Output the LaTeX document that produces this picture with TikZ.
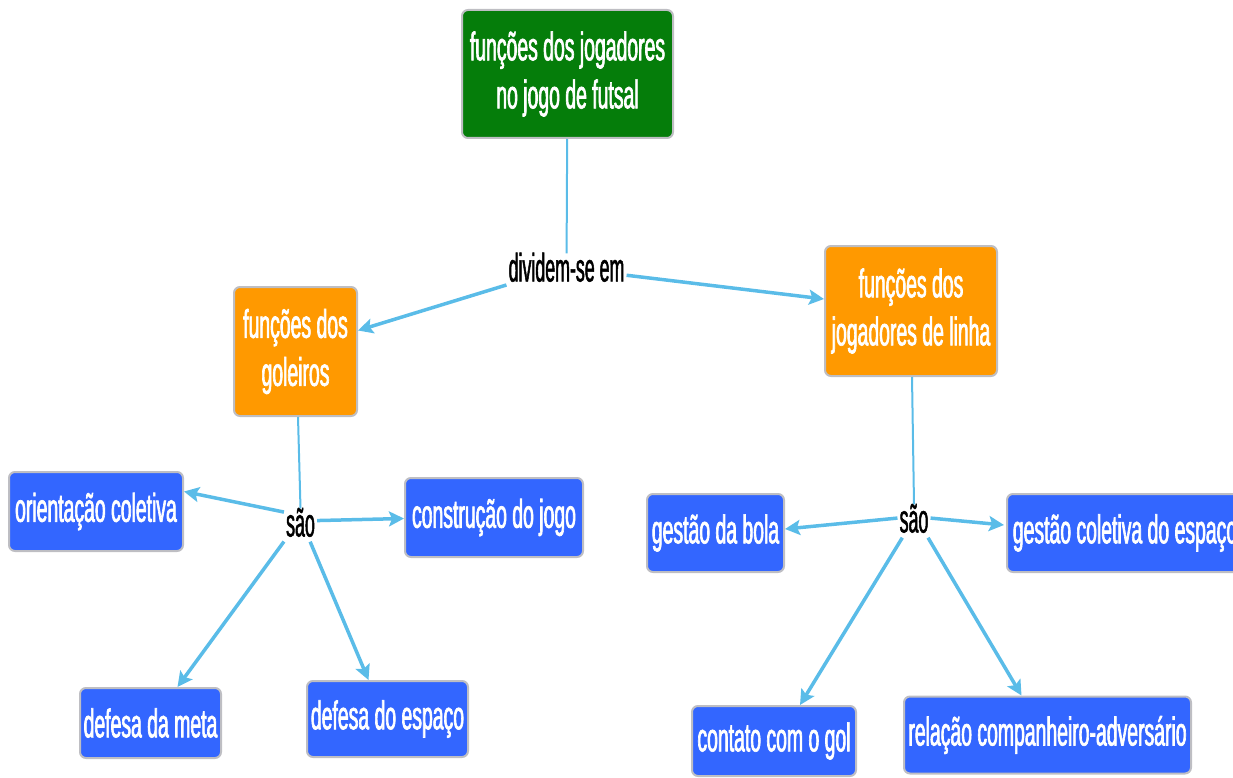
\documentclass[tikz,border=0pt]{standalone}
\usepackage{fontspec}
\setmainfont{Liberation Sans}
\newfontfamily\boxfont{Liberation Sans}[FakeStretch=0.485,FakeBold=1.6]
\newfontfamily\linkfont{Liberation Sans}[FakeStretch=0.445,FakeBold=1.2]
\usetikzlibrary{arrows.meta}

\definecolor{rootgreen}{RGB}{5,125,10}
\definecolor{grouporange}{RGB}{255,153,0}
\definecolor{leafblue}{RGB}{51,102,255}
\definecolor{boxedge}{RGB}{190,190,195}
\definecolor{linkblue}{RGB}{90,188,232}

\tikzset{
  concept/.style={rounded corners=6pt, draw=boxedge, line width=2pt,
    text=white, align=center, inner sep=0pt,
    font=\boxfont\fontsize{40}{48}\selectfont},
  rootbox/.style={concept, fill=rootgreen},
  groupbox/.style={concept, fill=grouporange},
  leafbox/.style={concept, fill=leafblue},
  phrase/.style={text=black, inner sep=2pt, text height=26pt, text depth=3pt,
    font=\linkfont\fontsize{40}{48}\selectfont},
  link/.style={draw=linkblue, line width=2pt},
  arrowlink/.style={draw=linkblue, line width=3.5pt,
    -{Stealth[length=15pt,width=15pt,inset=3pt]}},
}

\begin{document}
\begin{tikzpicture}[x=1pt,y=-1pt]
\useasboundingbox (0,0) rectangle (1233,778);

% concepts
\node[rootbox, minimum width=211pt, minimum height=128pt] (root) at (567.5,74)
  {funções dos jogadores\\no jogo de futsal};
\node[groupbox, minimum width=123pt, minimum height=129pt] (goal) at (295.5,351.5)
  {funções dos\\goleiros};
\node[groupbox, minimum width=172pt, minimum height=130pt] (line) at (911,311)
  {funções dos\\jogadores de linha};

\node[leafbox, minimum width=174pt, minimum height=79pt] (orient) at (96,511.5)
  {orientação coletiva};
\node[leafbox, minimum width=178pt, minimum height=79pt] (build) at (494,517.5)
  {construção do jogo};
\node[leafbox, minimum width=141pt, minimum height=70pt] (meta) at (150.5,723)
  {defesa da meta};
\node[leafbox, minimum width=161pt, minimum height=76pt] (space) at (387.5,719)
  {defesa do espaço};
\node[leafbox, minimum width=137pt, minimum height=78pt] (ball) at (715.5,533)
  {gestão da bola};
\node[leafbox, minimum width=236pt, minimum height=78pt] (collective) at (1125,533)
  {gestão coletiva do espaço};
\node[leafbox, minimum width=164pt, minimum height=70pt] (goalcontact) at (774,741)
  {contato com o gol};
\node[leafbox, minimum width=287pt, minimum height=77pt] (partner) at (1047.5,735)
  {relação companheiro-adversário};

% linking phrases
\node[phrase] (divide) at (566.5,270) {dividem-se em};
\node[phrase] (areL) at (300.5,525) {são};
\node[phrase] (areR) at (914,521) {são};

% connectors
\draw[link] (root) -- (divide);
\draw[arrowlink] (divide.194) -- ([yshift=21pt]goal.east);
\draw[arrowlink] (divide.355) -- ([yshift=12pt]line.west);

\draw[link] ([xshift=2.5pt]goal.south) -- (areL.north);
\draw[arrowlink] (areL.142) -- ([yshift=20pt]orient.east);
\draw[arrowlink] (areL.15) -- ([yshift=-1pt]build.west);
\draw[arrowlink] (areL.225) -- ([xshift=27pt]meta.north);
\draw[arrowlink] (areL.300) -- ([xshift=-19pt]space.north);

\draw[link] ([xshift=1pt]line.south) -- (areR.north);
\draw[arrowlink] (areR.170) -- ([yshift=4pt]ball.east);
\draw[arrowlink] (areR.10) -- ([xshift=-2pt,yshift=8pt]collective.west);
\draw[arrowlink] (areR.235) -- ([xshift=26pt]goalcontact.north);
\draw[arrowlink] (areR.310) -- ([xshift=-26pt]partner.north);
\end{tikzpicture}
\end{document}
